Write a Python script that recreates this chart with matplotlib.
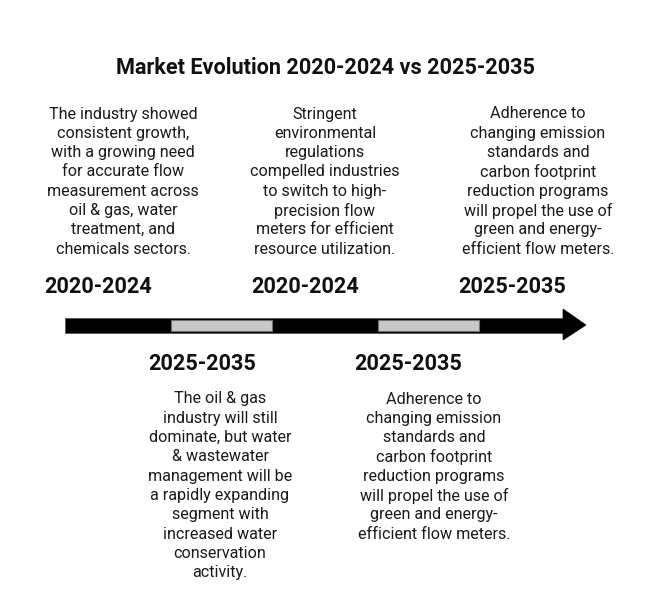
import matplotlib
matplotlib.use('Agg')
import matplotlib.pyplot as plt
from matplotlib.patches import Rectangle, Polygon

plt.rcParams['font.family'] = ['Roboto', 'DejaVu Sans']

title = 'Market Evolution 2020-2024 vs 2025-2035'

# timeline entries: (period label, description lines, side)
top_labels = ['2020-2024', '2020-2024', '2025-2035']
top_texts = [
    ['The industry showed', 'consistent growth,', 'with a growing need',
     'for accurate flow', 'measurement across', 'oil & gas, water',
     'treatment, and', 'chemicals sectors.'],
    ['Stringent', 'environmental', 'regulations', 'compelled industries',
     'to switch to high-', 'precision flow', 'meters for efficient',
     'resource utilization.'],
    ['Adherence to', 'changing emission', 'standards and',
     'carbon footprint', 'reduction programs', 'will propel the use of',
     'green and energy-', 'efficient flow meters.'],
]
bottom_labels = ['2025-2035', '2025-2035']
bottom_texts = [
    ['The oil & gas', 'industry will still', 'dominate, but water',
     '& wastewater', 'management will be', 'a rapidly expanding',
     'segment with', 'increased water', 'conservation', 'activity.'],
    ['Adherence to', 'changing emission', 'standards and',
     'carbon footprint', 'reduction programs', 'will propel the use of',
     'green and energy-', 'efficient flow meters.'],
]

W, H = 650, 611
fig = plt.figure(figsize=(W / 100, H / 100), dpi=100)
ax = fig.add_axes([0, 0, 1, 1])
ax.set_xlim(0, W)
ax.set_ylim(H, 0)
ax.axis('off')

txt_color = '#1a1a1a'
line_h = 19.3

ax.text(325, 68, title, ha='center', va='center', fontsize=15.6,
        fontweight='bold', color='#111111')

# arrow body and head
ax.add_patch(Rectangle((65, 317.5), 500, 15, facecolor='black',
                       edgecolor='#555555', linewidth=0.6))
ax.add_patch(Polygon([(563, 309), (586, 325), (563, 340)], closed=True,
                     facecolor='black', edgecolor='black', linewidth=0.5))
# grey segments
for x0 in [171, 378]:
    ax.add_patch(Rectangle((x0, 319.5), 101, 11, facecolor='#c8c8c8',
                           edgecolor='#707070', linewidth=0.8))

top_lbl_x = [98, 305, 512]
top_txt_x = [123, 325, 538]
for lbl, lx, lines, tx in zip(top_labels, top_lbl_x, top_texts, top_txt_x):
    ax.text(lx, 287, lbl, ha='center', va='center', fontsize=15.6,
            fontweight='bold', color='#111111')
    for i, ln in enumerate(lines):
        ax.text(tx, 114 + i * line_h, ln, ha='center', va='center',
                fontsize=11.6, color=txt_color)

bot_lbl_x = [202, 408]
bot_txt_x = [220, 434]
for lbl, lx, lines, tx in zip(bottom_labels, bot_lbl_x, bottom_texts, bot_txt_x):
    ax.text(lx, 364, lbl, ha='center', va='center', fontsize=15.6,
            fontweight='bold', color='#111111')
    for i, ln in enumerate(lines):
        ax.text(tx, 399 + i * line_h, ln, ha='center', va='center',
                fontsize=11.6, color=txt_color)

fig.savefig('out.png', dpi=100)
